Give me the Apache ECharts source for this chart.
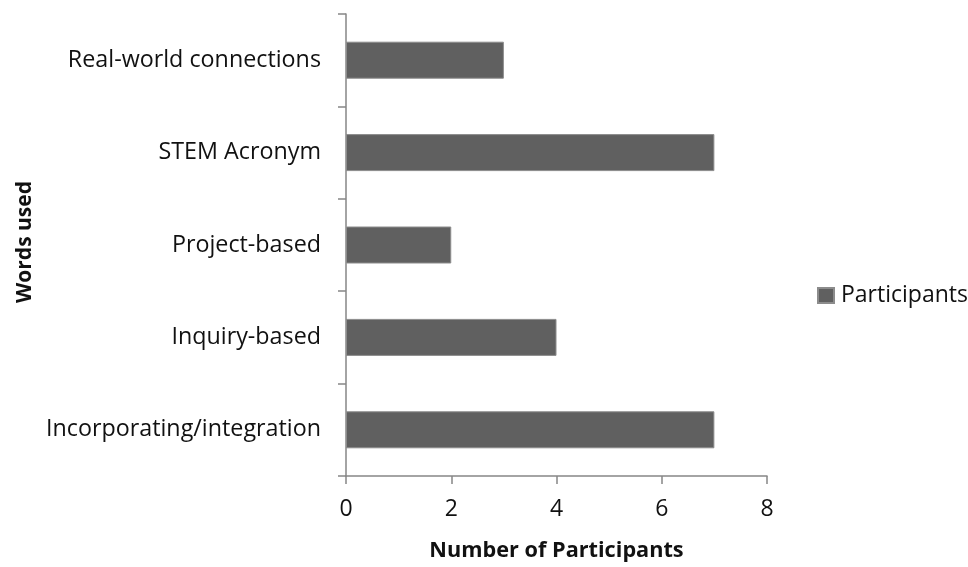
<!DOCTYPE html>
<html>
<head>
<meta charset="utf-8">
<script src="https://cdn.jsdelivr.net/npm/echarts@6/dist/echarts.min.js"></script>
<style>
  html, body { margin: 0; padding: 0; background: #ffffff; }
  #chart { width: 968px; height: 567px; }
</style>
</head>
<body>
<div id="chart"></div>
<script>
// Categories listed bottom to top (category y-axis starts at the bottom)
const categories = [
  'Incorporating/integration',
  'Inquiry-based',
  'Project-based',
  'STEM Acronym',
  'Real-world connections'
];
const participants = [7, 4, 2, 7, 3];
const xTicks = { min: 0, max: 8, interval: 2 };

const FONT = '"Open Sans", "Noto Sans", sans-serif';
const AXIS_GRAY = '#868686';

const chart = echarts.init(document.getElementById('chart'), null, { renderer: 'canvas' });

chart.setOption({
  animation: false,
  backgroundColor: '#ffffff',
  textStyle: { fontFamily: FONT },
  grid: { left: 346, right: 201, top: 14, bottom: 87, containLabel: false },
  legend: {
    data: ['Participants'],
    left: 817,
    top: 284,
    padding: 0,
    itemGap: 0,
    icon: 'rect',
    itemWidth: 16,
    itemHeight: 15,
    textStyle: { fontFamily: FONT, fontSize: 23, color: '#111111', padding: [0, 0, 0, 2] }
  },
  xAxis: {
    type: 'value',
    min: xTicks.min,
    max: xTicks.max,
    interval: xTicks.interval,
    name: 'Number of Participants',
    nameLocation: 'middle',
    nameGap: 64,
    nameTextStyle: { fontFamily: FONT, fontSize: 21.7, fontWeight: 'bold', color: '#111111' },
    axisLine: { show: true, lineStyle: { color: AXIS_GRAY, width: 1.5 } },
    axisTick: { show: true, length: 8, lineStyle: { color: AXIS_GRAY, width: 1.5 } },
    axisLabel: { margin: 22, fontFamily: FONT, fontSize: 23, color: '#111111' },
    splitLine: { show: false }
  },
  yAxis: {
    type: 'category',
    data: categories,
    name: 'Words used',
    nameLocation: 'middle',
    nameGap: 310,
    nameRotate: 90,
    nameTextStyle: { fontFamily: FONT, fontSize: 21, fontWeight: 'bold', color: '#111111', padding: [0, 0, 0, 6] },
    axisLine: { show: true, lineStyle: { color: AXIS_GRAY, width: 1.5 } },
    axisTick: { show: true, length: 8, alignWithLabel: false, lineStyle: { color: AXIS_GRAY, width: 1.5 } },
    axisLabel: { margin: 25, fontFamily: FONT, fontSize: 23.3, color: '#111111' },
    splitLine: { show: false }
  },
  series: [{
    name: 'Participants',
    type: 'bar',
    data: participants,
    barWidth: 37,
    itemStyle: { color: '#606060', borderColor: '#8c8c8c', borderWidth: 1 }
  }]
});
</script>
</body>
</html>
